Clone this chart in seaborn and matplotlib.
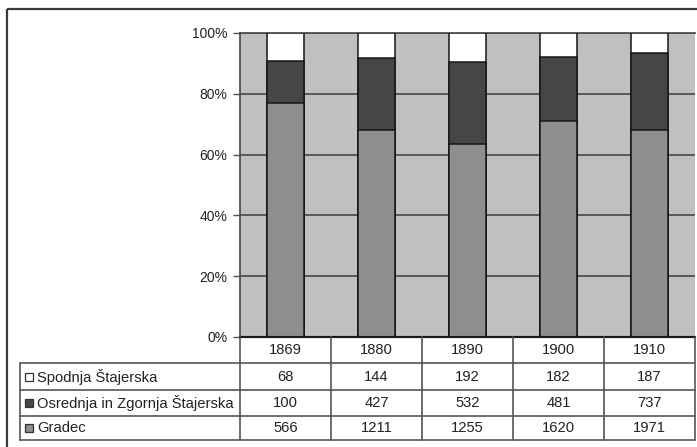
import matplotlib
matplotlib.use("Agg")
import matplotlib.pyplot as plt
from matplotlib.patches import Rectangle
from matplotlib.ticker import FuncFormatter
import numpy as np
import pandas as pd
import seaborn as sns

# Population by origin, counts per census year
years = ["1869", "1880", "1890", "1900", "1910"]
spodnja = [68, 144, 192, 182, 187]
osrednja = [100, 427, 532, 481, 737]
gradec = [566, 1211, 1255, 1620, 1971]
series_names = ["Spodnja Štajerska", "Osrednja in Zgornja Štajerska", "Gradec"]
y_ticks = [0, 20, 40, 60, 80, 100]

colors = {"Spodnja Štajerska": "#ffffff",
          "Osrednja in Zgornja Štajerska": "#464646",
          "Gradec": "#8e8e8e"}

W, H = 697, 447
sns.set_theme(style="white")
plt.rcParams["font.family"] = ["Liberation Sans", "DejaVu Sans"]

s = np.array(spodnja, float)
o = np.array(osrednja, float)
g = np.array(gradec, float)
tot = s + o + g
df = pd.DataFrame({
    "year": years,
    "top": (s + o + g) / tot * 100,
    "mid": (o + g) / tot * 100,
    "low": g / tot * 100,
})

fig = plt.figure(figsize=(W / 100, H / 100), dpi=100)
fig.patch.set_facecolor("white")

# plot area in pixel terms
PL, PR, PT, PB = 240, 695, 33, 337
ax = fig.add_axes([PL / W, 1 - PB / H, (PR - PL) / W, (PB - PT) / H])
ax.set_facecolor("#c0c0c0")

# 100% stacked bars drawn as overlapping cumulative heights
for col, name in zip(["top", "mid", "low"], series_names):
    sns.barplot(data=df, x="year", y=col, color=colors[name], saturation=1,
                width=0.4, edgecolor="#161616", linewidth=1.1, ax=ax, zorder=3)

ax.set_xlim(-0.5, len(years) - 0.5)
ax.set_ylim(0, 100)
ax.set_yticks(y_ticks)
ax.yaxis.set_major_formatter(FuncFormatter(lambda v, p: f"{v:.0f}%"))
ax.grid(axis="y", color="#505050", linewidth=1.3, zorder=1)
ax.set_axisbelow(True)
ax.set_xticks([])
ax.set_xlabel("")
ax.set_ylabel("")
ax.tick_params(axis="y", which="major", left=True, length=5, width=1,
               color="#505050", pad=4, labelsize=10, labelcolor="#222222")
ax.spines["right"].set_visible(False)
ax.spines["top"].set_color("#505050")
ax.spines["top"].set_linewidth(1.3)
ax.spines["left"].set_color("#505050")
ax.spines["left"].set_linewidth(1.3)
ax.spines["bottom"].set_color("#1a1a1a")
ax.spines["bottom"].set_linewidth(1.5)

# overlay in pixel coordinates for the frame and data table
ov = fig.add_axes([0, 0, 1, 1], zorder=5)
ov.set_xlim(0, W)
ov.set_ylim(H, 0)
ov.axis("off")
ov.patch.set_alpha(0)

ov.add_patch(Rectangle((7, 9), 760, 520, fill=False, ec="#3a3a3a", lw=1.6))

line_c = "#555555"
rows = [PB, 363, 389.5, 415.5, 440]
n = len(years)
col_w = (PR - PL) / n
cols = [PL + i * col_w for i in range(n + 1)]
LX = 20

# horizontal rules
ov.plot([PL, PR], [rows[0], rows[0]], color="#1a1a1a", lw=1.5)
for y in rows[1:]:
    ov.plot([LX, PR], [y, y], color=line_c, lw=1.2)
# vertical rules
for x in cols:
    ov.plot([x, x], [rows[0], rows[-1]], color=line_c, lw=1.2)
ov.plot([LX, LX], [rows[1], rows[-1]], color=line_c, lw=1.2)

txt_c = "#222222"
fs = 10.6
for i, yr in enumerate(years):
    cx = (cols[i] + cols[i + 1]) / 2
    ov.text(cx, (rows[0] + rows[1]) / 2 + 0.5, yr, ha="center", va="center",
            fontsize=fs, color=txt_c)

table_rows = [spodnja, osrednja, gradec]
for r, (name, vals) in enumerate(zip(series_names, table_rows)):
    yc = (rows[r + 1] + rows[r + 2]) / 2 + 0.5
    ov.add_patch(Rectangle((25, yc - 4), 8, 8, fc=colors[name],
                           ec="#333333", lw=0.9))
    ov.text(37, yc, name, ha="left", va="center", fontsize=fs, color=txt_c)
    for i, v in enumerate(vals):
        cx = (cols[i] + cols[i + 1]) / 2
        ov.text(cx, yc, str(v), ha="center", va="center", fontsize=fs,
                color=txt_c)

fig.savefig("out.png", dpi=100)
